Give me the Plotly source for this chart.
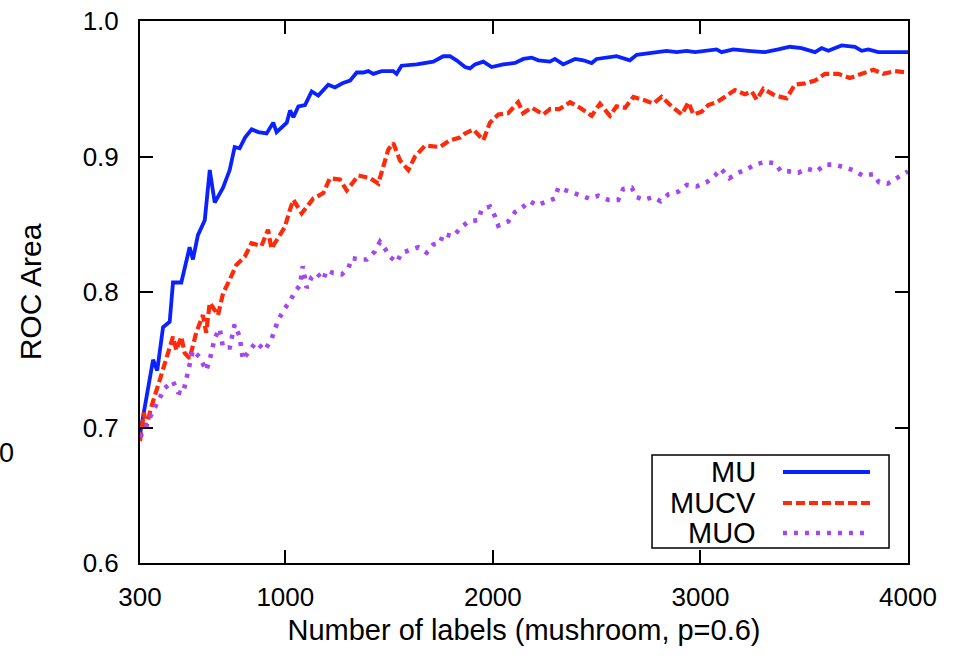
import plotly.graph_objects as go

series_names = ["MU", "MUCV", "MUO"]

mu_x = [300, 322, 345, 363, 383, 411, 443, 459, 499, 539,
        555, 579, 612, 636, 660, 700, 732, 756, 780, 806,
        838, 870, 910, 942, 958, 1007, 1023, 1039, 1063, 1095,
        1127, 1159, 1207, 1239, 1275, 1312, 1344, 1376, 1400, 1424,
        1464, 1520, 1536, 1560, 1633, 1665, 1713, 1761, 1793, 1825,
        1866, 1890, 1914, 1954, 1994, 2050, 2107, 2147, 2187, 2219,
        2275, 2299, 2339, 2396, 2436, 2476, 2500, 2596, 2644, 2660,
        2693, 2741, 2773, 2837, 2885, 2934, 2974, 3078, 3102, 3158,
        3230, 3311, 3375, 3431, 3487, 3552, 3584, 3616, 3680, 3744,
        3777, 3809, 3857, 3921, 4000]
mu_y = [0.695, 0.713, 0.735, 0.750, 0.742, 0.774, 0.778, 0.807, 0.807, 0.833,
        0.824, 0.842, 0.853, 0.890, 0.866, 0.877, 0.890, 0.907, 0.906, 0.914,
        0.920, 0.918, 0.917, 0.925, 0.918, 0.925, 0.934, 0.929, 0.937, 0.938,
        0.948, 0.945, 0.953, 0.951, 0.954, 0.956, 0.962, 0.962, 0.963, 0.961,
        0.963, 0.963, 0.961, 0.967, 0.968, 0.969, 0.970, 0.974, 0.974, 0.971,
        0.966, 0.965, 0.968, 0.970, 0.966, 0.968, 0.969, 0.972, 0.973, 0.971,
        0.970, 0.972, 0.968, 0.972, 0.971, 0.969, 0.972, 0.974, 0.972, 0.971,
        0.975, 0.976, 0.977, 0.978, 0.977, 0.978, 0.977, 0.979, 0.977, 0.979,
        0.978, 0.977, 0.979, 0.981, 0.980, 0.977, 0.980, 0.978, 0.982, 0.981,
        0.978, 0.979, 0.977, 0.977, 0.977]

mucv_x = [300, 306, 319, 330, 354, 395, 435, 459, 475, 499,
          515, 539, 571, 603, 619, 636, 676, 700, 732, 764,
          805, 837, 885, 917, 933, 965, 998, 1023, 1039, 1079,
          1135, 1183, 1215, 1263, 1296, 1352, 1408, 1448, 1496, 1520,
          1553, 1593, 1625, 1673, 1745, 1793, 1842, 1866, 1906, 1954,
          1986, 2026, 2074, 2122, 2146, 2187, 2243, 2275, 2320, 2372,
          2420, 2476, 2516, 2564, 2596, 2637, 2677, 2741, 2773, 2813,
          2861, 2910, 2942, 2966, 3006, 3038, 3078, 3118, 3166, 3214,
          3247, 3271, 3303, 3359, 3415, 3455, 3504, 3552, 3600, 3664,
          3720, 3777, 3833, 3881, 3937, 4000]
mucv_y = [0.690, 0.696, 0.711, 0.700, 0.715, 0.735, 0.755, 0.767, 0.757, 0.767,
          0.755, 0.751, 0.770, 0.783, 0.770, 0.792, 0.783, 0.799, 0.809, 0.820,
          0.826, 0.836, 0.834, 0.846, 0.832, 0.840, 0.848, 0.861, 0.868, 0.858,
          0.869, 0.873, 0.884, 0.883, 0.875, 0.886, 0.884, 0.880, 0.905, 0.910,
          0.897, 0.890, 0.900, 0.908, 0.907, 0.912, 0.914, 0.917, 0.920, 0.912,
          0.925, 0.931, 0.932, 0.940, 0.932, 0.936, 0.931, 0.935, 0.935, 0.940,
          0.936, 0.930, 0.939, 0.930, 0.937, 0.936, 0.944, 0.941, 0.939, 0.944,
          0.937, 0.931, 0.940, 0.931, 0.933, 0.938, 0.940, 0.944, 0.949, 0.946,
          0.948, 0.942, 0.950, 0.945, 0.943, 0.953, 0.954, 0.956, 0.961, 0.961,
          0.958, 0.961, 0.964, 0.961, 0.963, 0.962]

muo_x = [300, 322, 346, 371, 419, 459, 483, 507, 531, 555,
         587, 619, 636, 660, 684, 700, 732, 756, 780, 796,
         828, 860, 901, 933, 949, 965, 998, 1022, 1045, 1071,
         1084, 1103, 1127, 1151, 1183, 1199, 1231, 1272, 1303, 1320,
         1360, 1392, 1432, 1456, 1480, 1504, 1537, 1561, 1601, 1641,
         1681, 1713, 1745, 1761, 1809, 1842, 1882, 1930, 1946, 1986,
         2010, 2026, 2074, 2107, 2147, 2179, 2211, 2251, 2299, 2315,
         2372, 2417, 2464, 2508, 2556, 2604, 2628, 2669, 2693, 2728,
         2770, 2808, 2845, 2893, 2934, 2982, 3030, 3070, 3099, 3139,
         3182, 3227, 3262, 3311, 3359, 3388, 3428, 3471, 3513, 3560,
         3600, 3648, 3693, 3736, 3781, 3833, 3860, 3902, 3934, 3966,
         4000]
muo_y = [0.693, 0.698, 0.707, 0.715, 0.729, 0.734, 0.726, 0.725, 0.741, 0.757,
         0.752, 0.742, 0.750, 0.766, 0.773, 0.759, 0.759, 0.776, 0.767, 0.750,
         0.757, 0.763, 0.757, 0.765, 0.772, 0.779, 0.788, 0.793, 0.800, 0.805,
         0.819, 0.803, 0.811, 0.814, 0.809, 0.816, 0.814, 0.813, 0.817, 0.825,
         0.824, 0.824, 0.830, 0.837, 0.832, 0.826, 0.822, 0.829, 0.831, 0.833,
         0.829, 0.835, 0.836, 0.843, 0.841, 0.847, 0.852, 0.853, 0.861, 0.863,
         0.856, 0.849, 0.852, 0.859, 0.863, 0.867, 0.864, 0.866, 0.869, 0.877,
         0.874, 0.872, 0.869, 0.871, 0.868, 0.868, 0.876, 0.877, 0.870, 0.868,
         0.870, 0.867, 0.872, 0.874, 0.879, 0.878, 0.881, 0.886, 0.891, 0.884,
         0.888, 0.891, 0.894, 0.896, 0.895, 0.889, 0.889, 0.888, 0.891, 0.889,
         0.894, 0.894, 0.892, 0.890, 0.886, 0.887, 0.881, 0.880, 0.883, 0.886,
         0.889]

x_ticks = [300, 1000, 2000, 3000, 4000]
y_ticks = [0.6, 0.7, 0.8, 0.9, 1.0]

FONT = "Liberation Sans, Arial, Helvetica, sans-serif"
colors = ["#0a22ff", "#ff2a0a", "#a447f2"]
dashes = ["solid", "9px,4px", "4px,7px"]
widths = [3.8, 4.2, 4.6]

fig = go.Figure()
for name, xs, ys, c, d, w in zip(series_names, [mu_x, mucv_x, muo_x],
                                 [mu_y, mucv_y, muo_y], colors, dashes, widths):
    fig.add_trace(go.Scatter(x=xs, y=ys, mode="lines", name=name,
                             line=dict(color=c, width=w, dash=d),
                             showlegend=False))

axis_common = dict(showline=True, linecolor="black", linewidth=2, mirror="ticks",
                   ticks="inside", ticklen=13, tickwidth=2, tickcolor="black",
                   showgrid=False, zeroline=False,
                   tickfont=dict(family=FONT, size=26, color="black"))

fig.update_xaxes(range=[300, 4000], tickvals=x_ticks,
                 ticktext=[str(v) for v in x_ticks], ticklabelstandoff=10,
                 title=dict(text="Number of labels (mushroom, p=0.6)",
                            font=dict(family=FONT, size=29, color="black"),
                            standoff=8),
                 **axis_common)
fig.update_yaxes(range=[0.6, 1.0], tickvals=y_ticks,
                 ticktext=["%.1f" % v for v in y_ticks], ticklabelstandoff=14,
                 title=dict(text="ROC Area",
                            font=dict(family=FONT, size=30, color="black"),
                            standoff=32),
                 **axis_common)

# legend box (gnuplot style: label right-aligned, sample on the right)
shapes = [dict(type="rect", xref="paper", yref="paper", x0=0.6667, x1=0.9753,
               y0=0.0277, y1=0.1993, line=dict(color="black", width=1.5),
               fillcolor="white", layer="above")]
annotations = []
row_y = [0.1679, 0.1107, 0.0554]
for name, c, d, w, ry in zip(series_names, colors, dashes, widths, row_y):
    shapes.append(dict(type="line", xref="paper", yref="paper", x0=0.8372, x1=0.9505,
                       y0=ry, y1=ry, line=dict(color=c, width=w, dash=d), layer="above"))
    annotations.append(dict(text=name, xref="paper", yref="paper", x=0.8047, y=ry,
                            xanchor="right", yanchor="middle", showarrow=False,
                            font=dict(family=FONT, size=29, color="black")))

# label of neighbouring panel at far left
annotations.append(dict(text="0", xref="paper", yref="paper", x=-0.161, y=0.203,
                        xanchor="right", yanchor="middle", showarrow=False,
                        font=dict(family=FONT, size=27, color="black")))

fig.update_layout(width=965, height=660, margin=dict(l=140, r=57, t=21, b=97, autoexpand=False),
                  paper_bgcolor="white", plot_bgcolor="white",
                  shapes=shapes, annotations=annotations,
                  font=dict(family=FONT, color="black"))

fig.write_html("out.html")
